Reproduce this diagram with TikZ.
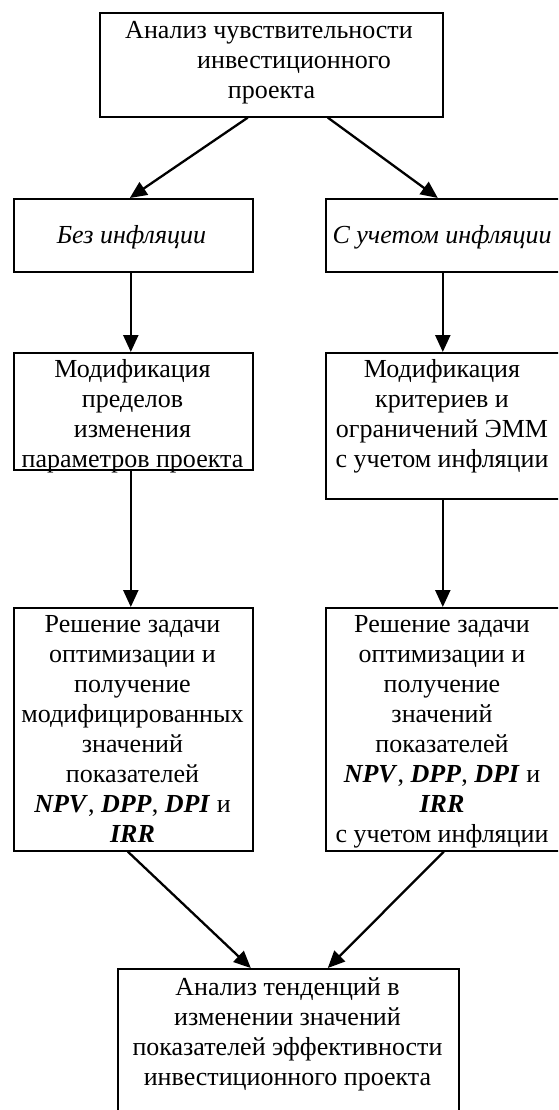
\documentclass[tikz,border=0pt]{standalone}
\usepackage{fontspec}
\setmainfont{Liberation Serif}
\usetikzlibrary{arrows.meta}
\begin{document}
\begin{tikzpicture}[x=1pt,y=-1pt,
  box/.style={draw=black, line width=1.6pt, rectangle, anchor=north west, inner sep=0pt},
  txt/.style={inner sep=0pt, anchor=north, align=center, font=\fontsize{26}{30}\selectfont},
  arr/.style={draw=black, line width=2.3pt, -{Triangle[length=17pt,width=15pt]}}]
\fill[white] (0,0) rectangle (558,1110);
\useasboundingbox (0,0) rectangle (558,1110);
\clip (0,0) rectangle (558,1110);
% boxes
\node[box, minimum width=343pt, minimum height=104pt] (top) at (99,12) {};
\node[box, minimum width=239pt, minimum height=73pt] (b1) at (13,198) {};
\node[box, minimum width=234pt, minimum height=73pt] (b2) at (325,198) {};
\node[box, minimum width=239pt, minimum height=117pt] (m1) at (13,352) {};
\node[box, minimum width=234pt, minimum height=146pt] (m2) at (325,352) {};
\node[box, minimum width=239pt, minimum height=243pt] (r1) at (13,607) {};
\node[box, minimum width=234pt, minimum height=243pt] (r2) at (325,607) {};
\node[box, minimum width=341pt, minimum height=170pt] (fin) at (117,968) {};
% texts
\node[txt] (ttop) at (269,17) {\strut Анализ чувствительности\\\hspace*{50pt}инвестиционного\\\hspace*{5pt}проекта};
\node[txt] (tb1) at (131.5,222) {\strut\textit{Без инфляции}};
\node[txt] (tb2) at (442,222) {\strut\textit{С учетом инфляции}};
\node[txt] (tm1) at (132.5,356) {\strut Модификация\\пределов\\изменения\\параметров проекта};
\node[txt] (tm2) at (442,356) {\strut Модификация\\критериев и\\ограничений ЭММ\\с учетом инфляции};
\node[txt] (tr1) at (132.5,611) {\strut Решение задачи\\оптимизации и\\получение\\модифицированных\\значений\\показателей\\\textbf{\textit{NPV}}, \textbf{\textit{DPP}}, \textbf{\textit{DPI}} и\\\textbf{\textit{IRR}}};
\node[txt] (tr2) at (442,611) {\strut Решение задачи\\оптимизации и\\получение\\значений\\показателей\\\textbf{\textit{NPV}}, \textbf{\textit{DPP}}, \textbf{\textit{DPI}} и\\\textbf{\textit{IRR}}\\с учетом инфляции};
\node[txt] (tfin) at (287.5,974) {\strut Анализ тенденций в\\изменении значений\\показателей эффективности\\инвестиционного проекта};
% connectors
\draw[arr] ([xshift=-23.5pt]top.south) -- ([xshift=-3.5pt]b1.north);
\draw[arr] ([xshift=56.5pt]top.south) -- ([xshift=-5pt]b2.north);
\draw[arr] ([xshift=-2.5pt]b1.south) -- ([xshift=-2.5pt]m1.north);
\draw[arr] (b2.south) -- (m2.north);
\draw[arr] ([xshift=-2.5pt]m1.south) -- ([xshift=-2.5pt]r1.north);
\draw[arr] (m2.south) -- (r2.north);
\draw[arr] ([xshift=-5.5pt]r1.south) -- ([xshift=-37.5pt]fin.north);
\draw[arr] ([xshift=1pt]r2.south) -- ([xshift=39.5pt]fin.north);
\end{tikzpicture}
\end{document}
